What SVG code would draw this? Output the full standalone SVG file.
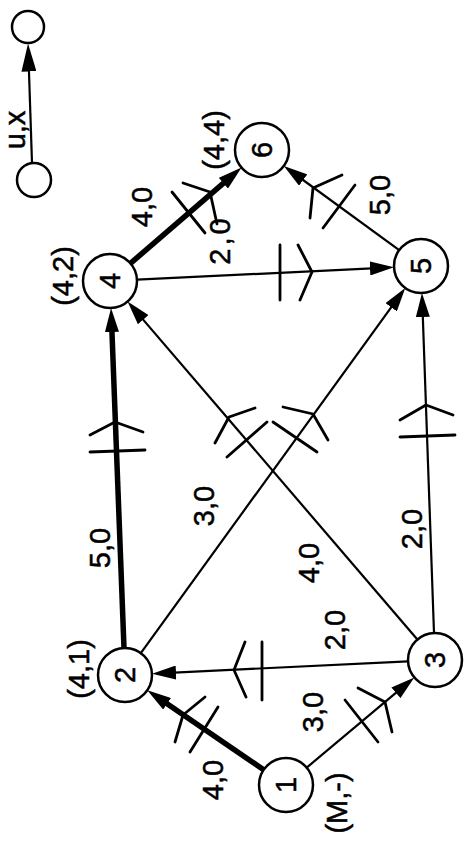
<svg xmlns="http://www.w3.org/2000/svg" width="469" height="843" viewBox="0 0 469 843">
<style>
  .node circle { fill: #fff; stroke: #000; stroke-width: 2.5; }
  .edge { fill: none; stroke: #000; stroke-width: 2.2; }
  .thick { stroke-width: 5.5; }
  .mark { fill: none; stroke: #000; stroke-width: 2.8; stroke-linecap: round; stroke-linejoin: round; }
  text { font-family: "Liberation Sans", Arial, Helvetica, sans-serif; font-size: 29px; fill: #000; stroke: #000; stroke-width: 0.5; text-anchor: middle; }
</style>
<defs>
  <marker id="ah" viewBox="0 0 24 14" refX="12" refY="7" markerWidth="24" markerHeight="14" markerUnits="userSpaceOnUse" orient="auto">
    <path d="M0,0 L24,7 L0,14 Z" fill="#000"/>
  </marker>
  <marker id="ahL" viewBox="0 0 28 15" refX="14" refY="7.5" markerWidth="28" markerHeight="15" markerUnits="userSpaceOnUse" orient="auto">
    <path d="M0,0 L28,7.5 L0,15 Z" fill="#000"/>
  </marker>
</defs>

<g id="legend">
  <path class="edge" d="M32,163 L28.5,57.5" marker-end="url(#ahL)"/>
  <circle cx="28" cy="27" r="16" fill="#fff" stroke="#000" stroke-width="2.5"/>
  <circle cx="34" cy="180" r="17" fill="#fff" stroke="#000" stroke-width="2.5"/>
  <text transform="translate(25,130) rotate(-90)">u,x</text>
</g>

<g id="connectors">
  <path id="e12" class="edge thick" d="M263.7,769.8 L157.2,697" marker-end="url(#ah)"/>
  <path id="e13" class="edge" d="M306.7,767.6 L405.1,685.1" marker-end="url(#ah)"/>
  <path id="e32" class="edge" d="M408,661.3 L164,673.1" marker-end="url(#ah)"/>
  <path id="e24" class="edge thick" d="M124,648 L111.5,320" marker-end="url(#ah)"/>
  <path id="e25" class="edge" d="M140.8,653.1 L398.2,297.6" marker-end="url(#ah)"/>
  <path id="e34" class="edge" d="M417.4,639.5 L135.4,310.6" marker-end="url(#ah)"/>
  <path id="e35" class="edge" d="M434,633 L422.4,305" marker-end="url(#ah)"/>
  <path id="e45" class="edge" d="M137,279.7 L382,267.9" marker-end="url(#ah)"/>
  <path id="e46" class="edge thick" d="M130.4,263.4 L232.5,175.4" marker-end="url(#ah)"/>
  <path id="e56" class="edge" d="M399.2,250.1 L293.5,173" marker-end="url(#ah)"/>

  <!-- tick and chevron marks -->
  <path class="mark" d="M218,707 L190,752 M205,697 L183,715 L175,742"/>
  <path class="mark" d="M345,700 L378,742 M358,688 L385,702 L392,732"/>
  <path class="mark" d="M262,642 L262,700 M245,642 L234,670 L246,697"/>
  <path class="mark" d="M90,452 L145,450 M90,435 L115,422 L143,432"/>
  <path class="mark" d="M273,422 L317,452 M283,407 L313,414 L328,440"/>
  <path class="mark" d="M267,422 L227,457 M255,408 L229,417 L215,443"/>
  <path class="mark" d="M400,437 L455,435 M400,420 L426,405 L453,415"/>
  <path class="mark" d="M280,245 L280,300 M298,245 L312,272 L300,300"/>
  <path class="mark" d="M172,192 L205,233 M183,183 L210,192 L217,224"/>
  <path class="mark" d="M355,185 L323,228 M342,175 L313,188 L310,218"/>

  <!-- edge labels -->
  <text transform="translate(223,780) rotate(-90)">4,0</text>
  <text transform="translate(323,712) rotate(-90)">3,0</text>
  <text transform="translate(345,630) rotate(-90)">2,0</text>
  <text transform="translate(110,548) rotate(-90)">5,0</text>
  <text transform="translate(214,506) rotate(-90)">3,0</text>
  <text transform="translate(319,563) rotate(-90)">4,0</text>
  <text transform="translate(422,529) rotate(-90)">2,0</text>
  <text transform="translate(230,240) rotate(-90)" letter-spacing="3">2,0</text>
  <text transform="translate(152,207) rotate(-90)">4,0</text>
  <text transform="translate(390,195) rotate(-90)">5,0</text>
</g>

<g id="n1" class="node">
  <circle cx="286" cy="785" r="27"/>
  <text transform="translate(296,785) rotate(-90)">1</text>
  <text transform="translate(347,803) rotate(-90)">(M,-)</text>
</g>
<g id="n2" class="node">
  <circle cx="125" cy="675" r="27"/>
  <text transform="translate(135,675) rotate(-90)">2</text>
  <text transform="translate(89,669) rotate(-90)">(4,1)</text>
</g>
<g id="n3" class="node">
  <circle cx="435" cy="660" r="27"/>
  <text transform="translate(445,660) rotate(-90)">3</text>
</g>
<g id="n4" class="node">
  <circle cx="110" cy="281" r="27"/>
  <text transform="translate(120,281) rotate(-90)">4</text>
  <text transform="translate(73,276) rotate(-90)">(4,2)</text>
</g>
<g id="n5" class="node">
  <circle cx="421" cy="266" r="27"/>
  <text transform="translate(431,266) rotate(-90)">5</text>
</g>
<g id="n6" class="node">
  <circle cx="262" cy="150" r="27"/>
  <text transform="translate(272,150) rotate(-90)">6</text>
  <text transform="translate(224,140) rotate(-90)">(4,4)</text>
</g>
</svg>
